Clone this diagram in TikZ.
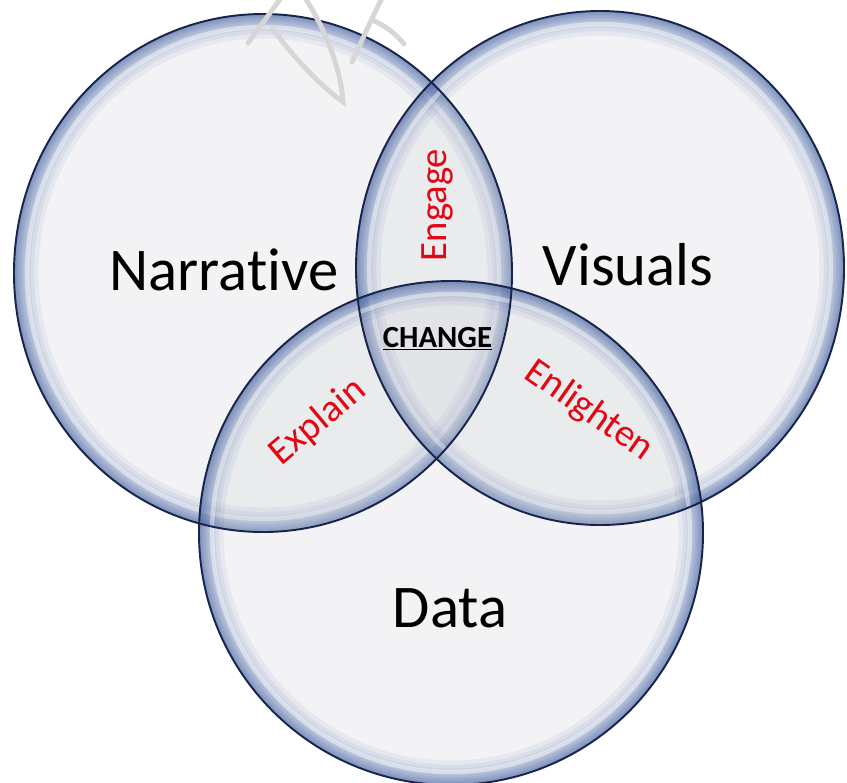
\documentclass[tikz,border=0pt]{standalone}
\usepackage{fontspec}
\setmainfont{Carlito}[Ligatures=NoCommon]
\usetikzlibrary{positioning}
\definecolor{bubblefill}{RGB}{203,205,212}
\definecolor{bubbleglow}{HTML}{3A5BA0}
\definecolor{bubbleedge}{HTML}{18244A}
\definecolor{wordred}{HTML}{E30613}
\definecolor{markgray}{HTML}{D6D6D6}
\tikzset{
  bubble/.style={fill=bubblefill, fill opacity=0.23},
  glow/.style={bubbleglow, opacity=0.075},
  rim/.style={draw=bubbleedge, line width=1.1pt},
  setlabel/.style={font=\fontsize{34.5}{40}\selectfont, inner sep=0pt, anchor=base},
  pairlabel/.style={font=\fontsize{22}{26}\selectfont, text=wordred, inner sep=0pt},
  corelabel/.style={font=\bfseries\fontsize{17.5}{20}\selectfont, inner sep=0pt, anchor=base},
  watermark/.style={markgray, line width=2.8pt, line cap=round}
}

\begin{document}
\begin{tikzpicture}[x=0.02cm, y=-0.02cm]
  \useasboundingbox (0,0) rectangle (847,782);
  % three sets: Narrative, Visuals, Data
  \foreach \cx/\cy/\rx/\ry in {263/273/249/259, 600/268/244/257, 451/533/252/252}{
    \fill[bubble] (\cx,\cy) ellipse [x radius=\rx, y radius=\ry];
    \begin{scope}
      \clip (\cx,\cy) ellipse [x radius=\rx, y radius=\ry];
      \foreach \w in {1.5,3,4.5,6,7.5,9,11,13,16,19,23,28}{
        \draw[glow, line width=\w pt] (\cx,\cy) ellipse [x radius=\rx, y radius=\ry];
      }
      \draw[white, opacity=0.4, line width=2.5pt] (\cx,\cy) ellipse [x radius=\rx-13, y radius=\ry-13];
    \end{scope}
  }
  \foreach \cx/\cy/\rx/\ry in {263/273/249/259, 600/268/244/257, 451/533/252/252}{
    \draw[rim] (\cx,\cy) ellipse [x radius=\rx, y radius=\ry];
  }

  % set names
  \node[setlabel] (narrative) at (224,290) {Narrative};
  \node[setlabel] (visuals) at (628,285) {Visuals};
  \node[setlabel] (data) at (450,627) {Data};

  % overlaps
  \node[pairlabel, rotate=90] (engage) at (437,205) {Engage};
  \node[pairlabel, rotate=40] (explain) at (318,422) {Explain};
  \node[pairlabel, rotate=-35] (enlighten) at (589,411) {Enlighten};
  \node[corelabel] (change) at (437.5,347) {\underline{CHANGE}};

  % faint mark at the top
  \draw[watermark] (248,43) -- (281,-2);
  \draw[watermark] (272,28) .. controls (292,55) and (318,84) .. (343,102)
                            .. controls (341,70) and (326,30) .. (305,-2);
  \draw[watermark] (352,62) .. controls (362,40) and (372,18) .. (382,-2);
  \draw[watermark] (372,20) .. controls (386,26) and (396,34) .. (404,44);
\end{tikzpicture}
\end{document}
